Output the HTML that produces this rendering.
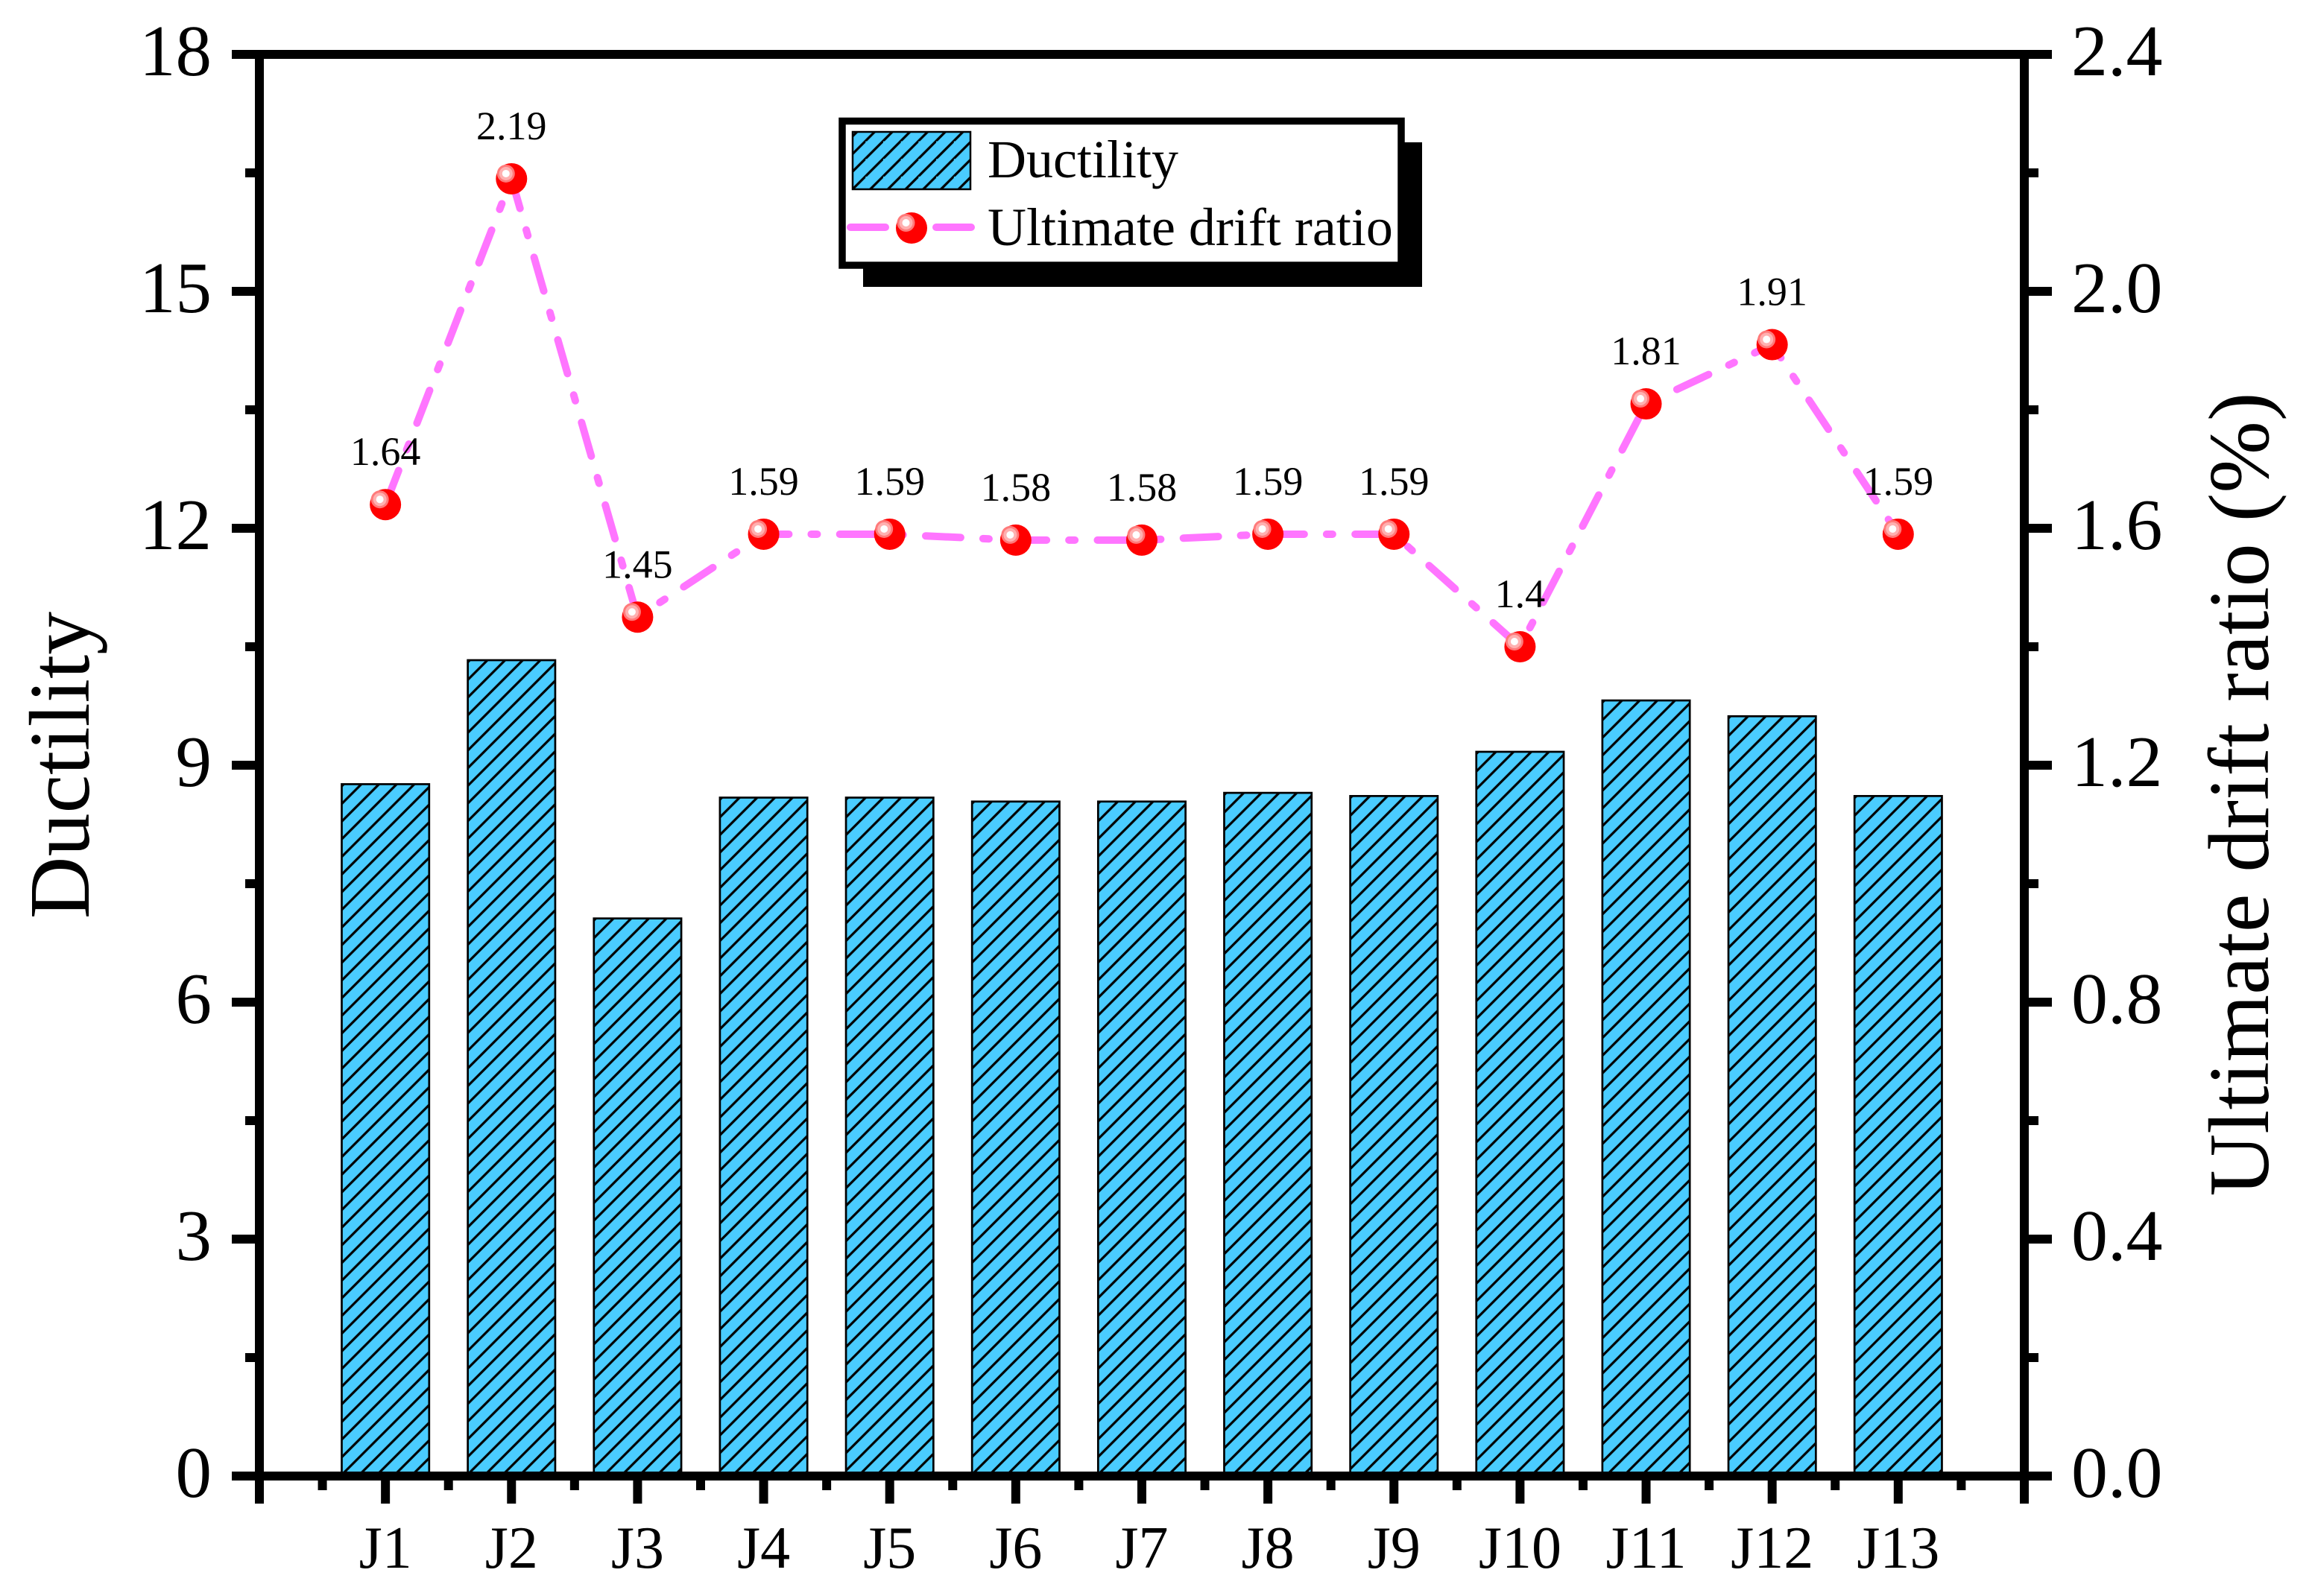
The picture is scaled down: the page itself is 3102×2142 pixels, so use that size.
<!DOCTYPE html>
<html>
<head>
<meta charset="utf-8">
<title>Ductility and ultimate drift ratio</title>
<style>
html,body{margin:0;padding:0;background:#fff;}
svg{display:block;}
text{font-family:"Liberation Serif",serif;fill:#000;}
</style>
</head>
<body>
<svg id="chart" xmlns="http://www.w3.org/2000/svg" width="3102" height="2142" viewBox="0 0 3102 2142">
  <defs id="defs">
    <pattern id="hatch-legend" patternUnits="userSpaceOnUse" width="23.7" height="23.7">
      <rect width="24" height="24" fill="#4ACCFF"/>
      <path d="M25.3 -2L-2 25.3M49 -2L-2 49" stroke="#000" stroke-width="3.2" fill="none"/>
    </pattern>
  </defs>
  <rect x="0" y="0" width="3102" height="2142" fill="#fff"/>
  <g id="bars"></g>
  <g id="axes"></g>
  <g id="line"></g>
  <g id="labels"></g>

  <text transform="translate(119,1027) rotate(-90)" text-anchor="middle" font-size="116">Ductility</text>
  <text transform="translate(3043,1066) rotate(-90)" text-anchor="middle" font-size="116">Ultimate drift ratio (%)</text>

  <g>
    <rect x="1158" y="191" width="750" height="194" fill="#000"/>
    <rect x="1130" y="162.5" width="750" height="193.5" fill="#fff" stroke="#000" stroke-width="9.5"/>
    <rect x="1144" y="177" width="158" height="77" fill="url(#hatch-legend)" stroke="#000" stroke-width="2.5"/>
    <text x="1325" y="238" font-size="72">Ductility</text>
    <line x1="1141" y1="305" x2="1188" y2="305" stroke="#FF75FF" stroke-width="10" stroke-linecap="round"/>
    <line x1="1256" y1="305" x2="1303" y2="305" stroke="#FF75FF" stroke-width="10" stroke-linecap="round"/>
    <g>
      <circle cx="1223" cy="306" r="21" fill="#FF0000"/>
      <circle cx="1215.5" cy="299" r="12" fill="#FF7A7A"/>
      <circle cx="1215.5" cy="299" r="9" fill="#FFB0B0"/>
      <circle cx="1215.5" cy="299" r="5" fill="#FFFFFF"/>
    </g>
    <text x="1325" y="329" font-size="72">Ultimate drift ratio</text>
  </g>
</svg>
<script>
var categories = ["J1","J2","J3","J4","J5","J6","J7","J8","J9","J10","J11","J12","J13"];
var ductility = [8.76,10.33,7.06,8.59,8.59,8.54,8.54,8.65,8.61,9.17,9.82,9.62,8.61];
var driftRatio = [1.64,2.19,1.45,1.59,1.59,1.58,1.58,1.59,1.59,1.4,1.81,1.91,1.59];
var driftLabels = ["1.64","2.19","1.45","1.59","1.59","1.58","1.58","1.59","1.59","1.4","1.81","1.91","1.59"];
var leftTicks = ["0","3","6","9","12","15","18"];
var rightTicks = ["0.0","0.4","0.8","1.2","1.6","2.0","2.4"];

var NS = "http://www.w3.org/2000/svg";
function xPos(i){ return 348 + 169.14 * (i + 1); }
function yLeft(v){ return 1981 - v * 106; }
function yRight(v){ return 1981 - v / 2.4 * 1908; }
function make(tag, attrs, parent){
  var el = document.createElementNS(NS, tag);
  for (var k in attrs) el.setAttribute(k, attrs[k]);
  parent.appendChild(el);
  return el;
}

var barsG = document.getElementById("bars");
var defsEl = document.getElementById("defs");
var BAR_W = 117.3;
ductility.forEach(function(v, i){
  var left = xPos(i) - 60, top = yLeft(v);
  var pat = make("pattern", {id: "hatch-" + i, patternUnits: "userSpaceOnUse", width: 23.7, height: 23.7, patternTransform: "translate(" + left + "," + top + ")"}, defsEl);
  make("rect", {width: 24, height: 24, fill: "#4ACCFF"}, pat);
  make("path", {d: "M6 -2L-2 6M29.7 -2L-2 29.7", stroke: "#000", "stroke-width": 3.2, fill: "none"}, pat);
  var el = make("rect", {x: xPos(i) - BAR_W / 2, y: yLeft(v), width: BAR_W, height: yLeft(0) - yLeft(v), fill: "url(#hatch-" + i + ")", stroke: "#000", "stroke-width": 2.7}, barsG);
  
  
});

var axesG = document.getElementById("axes");
function axisRect(x, y, w, h, name){
  var el = make("rect", {x: x, y: y, width: w, height: h, fill: "#000"}, axesG);
  
  
}
axisRect(311, 67, 2442, 12, 'top-axis-line');
axisRect(311, 1975, 2442, 12, 'bottom-axis-line');
axisRect(342, 67, 12, 1951, 'left-axis-line');
axisRect(2710, 67, 12, 1951, 'right-axis-line');

leftTicks.forEach(function(t, i){
  var v = parseFloat(t);
  var y = yLeft(v);
  axisRect(311, y - 6, 31, 12, 'left-major-tick');
  axisRect(2722, y - 6, 31, 12, 'right-major-tick');
  if (i < leftTicks.length - 1) {
    var step = parseFloat(leftTicks[i + 1]) - v;
    var ym = yLeft(v + step / 2);
    axisRect(329, ym - 6, 13, 12, 'left-minor-tick');
    axisRect(2722, ym - 6, 13, 12, 'right-minor-tick');
  }
  var l = make("text", {x: 284, y: y + 28, "text-anchor": "end", "font-size": 97}, document.getElementById("labels"));
  l.textContent = t;
  
  
  var r = make("text", {x: 2779, y: y + 28, "font-size": 98}, document.getElementById("labels"));
  r.textContent = rightTicks[i];
  
  
});

categories.forEach(function(c, i){
  var x = xPos(i);
  axisRect(x - 6, 1987, 12, 31, 'x-major-tick');
  axisRect(x - 169.14 / 2 - 6, 1987, 12, 13, 'x-minor-tick');
  var t = make("text", {x: x, y: 2104, "text-anchor": "middle", "font-size": 80}, document.getElementById("labels"));
  t.textContent = c;
  
  
});
axisRect(xPos(categories.length - 1) + 169.14 / 2 - 6, 1987, 12, 13, 'x-minor-tick');

var lineG = document.getElementById("line");
var pts = driftRatio.map(function(v, i){ return xPos(i) + "," + yRight(v); }).join(" ");
var poly = make("polyline", {points: pts, fill: "none", stroke: "#FF75FF", "stroke-width": 10, "stroke-linecap": "round", "stroke-linejoin": "round", "stroke-dasharray": "47 30 8 30.3", "stroke-dashoffset": -2}, lineG);



driftRatio.forEach(function(v, i){
  var x = xPos(i), y = yRight(v);
  var g = make("g", {}, lineG);
  
  
  make("circle", {cx: x, cy: y, r: 21, fill: "#FF0000"}, g);
  make("circle", {cx: x - 7.5, cy: y - 7, r: 12, fill: "#FF7A7A"}, g);
  make("circle", {cx: x - 7.5, cy: y - 7, r: 9, fill: "#FFB0B0"}, g);
  make("circle", {cx: x - 7.5, cy: y - 7, r: 5, fill: "#FFFFFF"}, g);
  var t = make("text", {x: x, y: y - 53, "text-anchor": "middle", "font-size": 54}, document.getElementById("labels"));
  t.textContent = driftLabels[i];
  
  
});
</script>
</body>
</html>
